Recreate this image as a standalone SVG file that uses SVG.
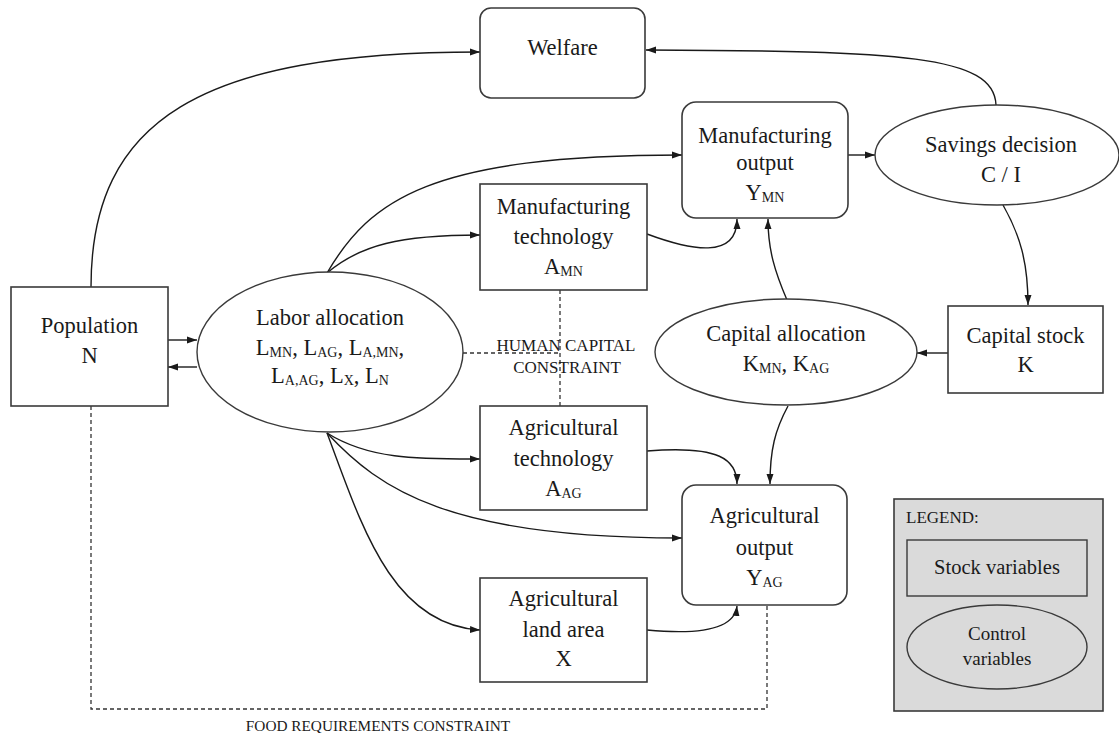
<svg xmlns="http://www.w3.org/2000/svg" width="1119" height="733" viewBox="0 0 1119 733" font-family="'Liberation Serif', 'DejaVu Serif', serif">
<defs>
<marker id="ah" markerUnits="userSpaceOnUse" markerWidth="11" markerHeight="8" refX="10" refY="4" orient="auto">
<path d="M0,0.5 L10,4 L0,7.5 z" fill="#1a1a1a"/>
</marker>
<style>
text{font-family:'Liberation Serif','DejaVu Serif',serif;fill:#1a1a1a;}
.t{font-size:22.5px;text-anchor:middle;}
.sub{font-size:14px;}
.box{fill:#fff;stroke:#3a3a3a;stroke-width:1.6;}
.ell{fill:#fff;stroke:#3a3a3a;stroke-width:1.4;}
.c{fill:none;stroke:#1a1a1a;stroke-width:1.4;marker-end:url(#ah);}
.d{fill:none;stroke:#333;stroke-width:1.3;stroke-dasharray:4,3;}
.lbl{text-anchor:middle;}
</style>
</defs>
<rect width="1119" height="733" fill="#fff"/>

<g id="connectors">
<path class="c" d="M91,287 C91,120 200,52 480,52"/>
<path class="c" d="M996,105 C994,55 900,51 646,50"/>
<path class="c" d="M327,273 C370,200 430,155 682,155"/>
<path class="c" d="M327,273 C360,245 400,235 480,235"/>
<path class="c" d="M647,234 C690,250 737,260 737,219"/>
<path class="c" d="M848,155 L875,155"/>
<path class="c" d="M1003,205 C1020,235 1028,262 1028,305"/>
<path class="c" d="M948,353 L917,353"/>
<path class="c" d="M787,300 C775,272 768,250 768,219"/>
<path class="c" d="M788,406 C775,430 770,450 770,484"/>
<path class="c" d="M168,340 L197,340"/>
<path class="c" d="M197,367 L168,367"/>
<path class="c" d="M327,433 C370,460 420,459 480,459"/>
<path class="c" d="M327,433 C380,490 450,538 682,538"/>
<path class="c" d="M327,433 C360,520 390,625 480,630"/>
<path class="c" d="M647,451 C720,445 737,460 737,484"/>
<path class="c" d="M647,630 C710,636 735,625 737,606"/>
<path class="d" d="M560,290 L560,406"/>
<path class="d" d="M463,353 L560,353"/>
<path class="d" d="M91,406 L91,709 L767,709 L767,605"/>
</g>

<g id="welfare">
<rect class="box" x="480" y="8" width="165" height="90" rx="11"/>
<text class="t" x="562.5" y="55">Welfare</text>
</g>

<g id="population">
<rect class="box" x="11" y="287" width="157" height="119"/>
<text class="t" x="89.5" y="333">Population</text>
<text class="t" x="89.5" y="363">N</text>
</g>

<g id="labor-allocation">
<ellipse class="ell" cx="330" cy="352" rx="133" ry="80"/>
<text class="t" x="330" y="325">Labor allocation</text>
<text class="t" x="330" y="355">L<tspan class="sub" dy="2">MN</tspan><tspan dy="-2">, L</tspan><tspan class="sub" dy="2">AG</tspan><tspan dy="-2">, L</tspan><tspan class="sub" dy="2">A,MN</tspan><tspan dy="-2">,</tspan></text>
<text class="t" x="330" y="383">L<tspan class="sub" dy="2">A,AG</tspan><tspan dy="-2">, L</tspan><tspan class="sub" dy="2">X</tspan><tspan dy="-2">, L</tspan><tspan class="sub" dy="2">N</tspan></text>
</g>

<g id="manufacturing-technology">
<rect class="box" x="480" y="184" width="167" height="106"/>
<text class="t" x="563.5" y="214">Manufacturing</text>
<text class="t" x="563.5" y="244">technology</text>
<text class="t" x="563.5" y="274">A<tspan class="sub" dy="2">MN</tspan></text>
</g>

<g id="manufacturing-output">
<rect class="box" x="682" y="102" width="166" height="116" rx="14"/>
<text class="t" x="765" y="143">Manufacturing</text>
<text class="t" x="765" y="170">output</text>
<text class="t" x="765" y="200">Y<tspan class="sub" dy="2">MN</tspan></text>
</g>

<g id="savings-decision">
<ellipse class="ell" cx="997" cy="155" rx="122" ry="50"/>
<text class="t" x="1001" y="152">Savings decision</text>
<text class="t" x="1001" y="182">C / I</text>
</g>

<g id="capital-stock">
<rect class="box" x="948" y="306" width="155" height="87"/>
<text class="t" x="1025.5" y="343">Capital stock</text>
<text class="t" x="1025.5" y="372">K</text>
</g>

<g id="capital-allocation">
<ellipse class="ell" cx="786" cy="352" rx="131" ry="53"/>
<text class="t" x="786" y="341">Capital allocation</text>
<text class="t" x="786" y="371">K<tspan class="sub" dy="2">MN</tspan><tspan dy="-2">, K</tspan><tspan class="sub" dy="2">AG</tspan></text>
</g>

<g id="agricultural-technology">
<rect class="box" x="480" y="406" width="167" height="104"/>
<text class="t" x="563.5" y="435">Agricultural</text>
<text class="t" x="563.5" y="466">technology</text>
<text class="t" x="563.5" y="496">A<tspan class="sub" dy="2">AG</tspan></text>
</g>

<g id="agricultural-output">
<rect class="box" x="682" y="485" width="165" height="120" rx="14"/>
<text class="t" x="764.5" y="523">Agricultural</text>
<text class="t" x="764.5" y="555">output</text>
<text class="t" x="764.5" y="585">Y<tspan class="sub" dy="2">AG</tspan></text>
</g>

<g id="agricultural-land-area">
<rect class="box" x="480" y="578" width="167" height="104"/>
<text class="t" x="563.5" y="606">Agricultural</text>
<text class="t" x="563.5" y="637">land area</text>
<text class="t" x="563.5" y="666">X</text>
</g>

<g id="constraint-labels">
<text class="lbl" x="566" y="351" font-size="17">HUMAN CAPITAL</text>
<text class="lbl" x="567" y="373" font-size="17">CONSTRAINT</text>
<text class="lbl" x="378" y="731" font-size="15.3">FOOD REQUIREMENTS CONSTRAINT</text>
</g>

<g id="legend">
<rect x="894" y="499" width="209" height="212" fill="#dadada" stroke="#3a3a3a" stroke-width="1.6"/>
<text x="906" y="523" font-size="17">LEGEND:</text>
<rect x="907" y="540" width="180" height="56" fill="#dadada" stroke="#3a3a3a" stroke-width="1.4"/>
<text class="lbl" x="997" y="574" font-size="20.5">Stock variables</text>
<ellipse cx="997" cy="647" rx="90" ry="42" fill="#dadada" stroke="#3a3a3a" stroke-width="1.4"/>
<text class="lbl" x="997" y="640" font-size="19">Control</text>
<text class="lbl" x="997" y="665" font-size="19">variables</text>
</g>
</svg>
